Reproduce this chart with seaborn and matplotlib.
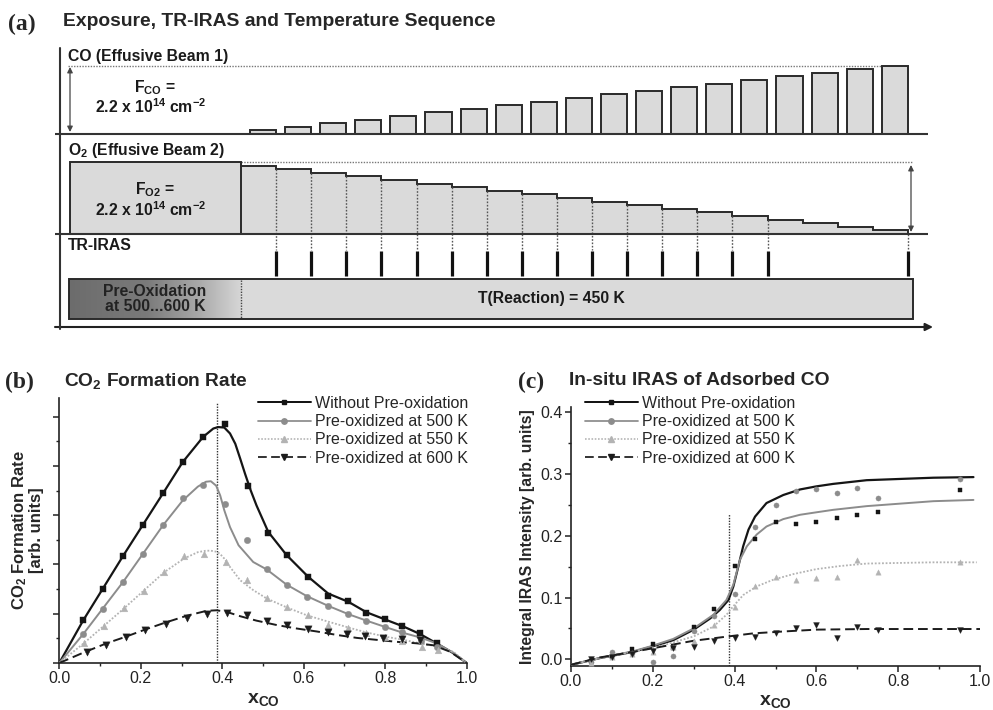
import numpy as np
import pandas as pd
import matplotlib
matplotlib.use("Agg")
import matplotlib.pyplot as plt
import seaborn as sns
from matplotlib.lines import Line2D
from matplotlib.patches import Rectangle
from matplotlib.colors import LinearSegmentedColormap

# ------------------------------------------------------------------ data
# panel (a): relative beam fluxes per exposure step
co_flux = [0.05, 0.10, 0.15, 0.20, 0.25, 0.30, 0.35, 0.40, 0.45, 0.50,
           0.55, 0.60, 0.65, 0.70, 0.75, 0.80, 0.85, 0.90, 0.95]
o2_flux = [0.95, 0.90, 0.85, 0.80, 0.75, 0.70, 0.65, 0.60, 0.55, 0.50,
           0.45, 0.40, 0.35, 0.30, 0.25, 0.20, 0.15, 0.10, 0.05]
o2_preox_flux = 1.0
iras_steps = [1, 2, 3, 4, 5, 6, 7, 8, 9, 10, 11, 12, 13, 14, 15, 19]

labels = ["Without Pre-oxidation", "Pre-oxidized at 500 K",
          "Pre-oxidized at 550 K", "Pre-oxidized at 600 K"]

# panel (b): CO2 formation rate, measured points
b_x_wo = [0.059, 0.108, 0.157, 0.206, 0.255, 0.303, 0.353, 0.407, 0.462, 0.513,
          0.560, 0.611, 0.660, 0.708, 0.753, 0.800, 0.840, 0.885, 0.926]
b_y_wo = [0.87, 1.51, 2.18, 2.80, 3.45, 4.08, 4.59, 4.86, 3.59, 2.63,
          2.19, 1.75, 1.36, 1.26, 1.02, 0.90, 0.76, 0.60, 0.40]
b_x_500 = [0.059, 0.108, 0.157, 0.206, 0.255, 0.303, 0.353, 0.407, 0.460, 0.509,
           0.558, 0.609, 0.660, 0.708, 0.753, 0.800, 0.840, 0.887, 0.926]
b_y_500 = [0.59, 1.10, 1.65, 2.22, 2.80, 3.34, 3.62, 3.22, 2.49, 1.90,
           1.58, 1.34, 1.16, 0.99, 0.86, 0.74, 0.63, 0.45, 0.33]
b_x_550 = [0.060, 0.110, 0.159, 0.208, 0.257, 0.306, 0.355, 0.409, 0.460, 0.509,
           0.560, 0.611, 0.660, 0.708, 0.754, 0.800, 0.840, 0.890, 0.930]
b_y_550 = [0.40, 0.75, 1.11, 1.47, 1.84, 2.17, 2.22, 2.05, 1.68, 1.31,
           1.14, 0.97, 0.77, 0.72, 0.60, 0.53, 0.45, 0.33, 0.26]
b_x_600 = [0.067, 0.115, 0.163, 0.211, 0.262, 0.313, 0.362, 0.412, 0.460, 0.510,
           0.558, 0.611, 0.660, 0.705, 0.750, 0.795, 0.840, 0.885]
b_y_600 = [0.23, 0.37, 0.52, 0.66, 0.80, 0.92, 1.00, 1.01, 0.97, 0.86,
           0.77, 0.69, 0.63, 0.58, 0.54, 0.51, 0.48, 0.46]

# panel (b): fitted curves
bf_x_wo = [0.0, 0.059, 0.157, 0.255, 0.303, 0.353, 0.378, 0.390, 0.405, 0.419, 0.432,
           0.444, 0.456, 0.470, 0.484, 0.513, 0.558, 0.611, 0.660, 0.710, 0.754,
           0.804, 0.845, 0.885, 0.926, 0.967, 1.0]
bf_y_wo = [0.0, 0.87, 2.18, 3.45, 4.08, 4.59, 4.76, 4.79, 4.78, 4.66, 4.45,
           4.15, 3.84, 3.50, 3.20, 2.66, 2.19, 1.75, 1.41, 1.24, 1.03,
           0.87, 0.74, 0.59, 0.40, 0.20, 0.0]
bf_x_500 = [0.0, 0.059, 0.157, 0.255, 0.303, 0.340, 0.360, 0.372, 0.385, 0.395,
            0.405, 0.419, 0.440, 0.476, 0.509, 0.558, 0.607, 0.660, 0.710, 0.754,
            0.804, 0.845, 0.885, 0.926, 0.967, 1.0]
bf_y_500 = [0.0, 0.59, 1.65, 2.80, 3.30, 3.58, 3.68, 3.69, 3.60, 3.40,
            3.10, 2.76, 2.39, 2.05, 1.90, 1.59, 1.36, 1.16, 0.99, 0.86,
            0.72, 0.61, 0.52, 0.40, 0.21, 0.0]
bf_x_550 = [0.0, 0.060, 0.159, 0.257, 0.306, 0.340, 0.360, 0.372, 0.385, 0.394,
            0.405, 0.419, 0.444, 0.476, 0.509, 0.558, 0.607, 0.660, 0.710, 0.754,
            0.804, 0.845, 0.885, 0.926, 0.967, 1.0]
bf_y_550 = [0.0, 0.40, 1.11, 1.84, 2.12, 2.25, 2.28, 2.28, 2.26, 2.22,
            2.12, 1.95, 1.68, 1.48, 1.31, 1.13, 0.97, 0.84, 0.72, 0.62,
            0.53, 0.47, 0.40, 0.34, 0.23, 0.0]
bf_x_600 = [0.0, 0.059, 0.116, 0.162, 0.211, 0.260, 0.313, 0.362, 0.386, 0.410,
            0.444, 0.484, 0.534, 0.583, 0.632, 0.681, 0.730, 0.779, 0.828,
            0.877, 0.918, 0.959, 1.0]
bf_y_600 = [0.0, 0.21, 0.40, 0.53, 0.68, 0.82, 0.96, 1.06, 1.07, 1.04,
            0.95, 0.86, 0.77, 0.70, 0.64, 0.57, 0.51, 0.47, 0.43,
            0.40, 0.36, 0.23, 0.0]

# panel (c): integral IRAS intensity, measured points
c_x = [0.05, 0.10, 0.15, 0.20, 0.25, 0.30, 0.35, 0.40, 0.45, 0.50,
       0.55, 0.60, 0.65, 0.70, 0.75, 0.95]
c_y_wo = [-0.002, 0.004, 0.016, 0.025, 0.019, 0.053, 0.081, 0.151, 0.194, 0.222,
          0.219, 0.222, 0.229, 0.234, 0.239, 0.274]
c_y_500 = [-0.005, 0.011, 0.010, -0.004, 0.006, 0.045, 0.070, 0.105, 0.215, 0.250,
           0.272, 0.276, 0.270, 0.277, 0.261, 0.292]
c_y_550 = [-0.006, 0.004, 0.008, 0.012, 0.020, 0.030, 0.055, 0.085, 0.118, 0.133,
           0.129, 0.132, 0.133, 0.161, 0.141, 0.157]
c_y_600 = [0.000, 0.003, 0.008, 0.013, 0.018, 0.020, 0.030, 0.035, 0.036, 0.043,
           0.050, 0.056, 0.035, 0.052, 0.048, 0.048]

# panel (c): fitted curves
cf_x_wo = [0.0, 0.071, 0.152, 0.200, 0.250, 0.300, 0.340, 0.364, 0.385, 0.397,
           0.409, 0.421, 0.434, 0.450, 0.478, 0.519, 0.560, 0.600, 0.641, 0.723,
           0.804, 0.886, 0.984]
cf_y_wo = [-0.009, 0.002, 0.012, 0.021, 0.031, 0.048, 0.066, 0.080, 0.096, 0.118,
           0.150, 0.183, 0.210, 0.231, 0.253, 0.266, 0.275, 0.280, 0.284, 0.290,
           0.292, 0.294, 0.295]
cf_x_500 = [0.0, 0.071, 0.152, 0.200, 0.250, 0.300, 0.348, 0.380, 0.397, 0.413,
            0.430, 0.454, 0.478, 0.519, 0.560, 0.600, 0.641, 0.723, 0.804, 0.886,
            0.984]
cf_y_500 = [-0.009, 0.002, 0.013, 0.022, 0.033, 0.050, 0.072, 0.096, 0.121, 0.161,
            0.183, 0.202, 0.215, 0.227, 0.234, 0.238, 0.242, 0.248, 0.252, 0.256,
            0.258]
cf_x_550 = [0.0, 0.071, 0.200, 0.300, 0.348, 0.380, 0.397, 0.421, 0.454, 0.495,
            0.544, 0.600, 0.658, 0.723, 0.804, 0.886, 0.992]
cf_y_550 = [-0.009, 0.002, 0.018, 0.037, 0.053, 0.072, 0.086, 0.104, 0.118, 0.129,
            0.138, 0.146, 0.151, 0.155, 0.156, 0.157, 0.157]
cf_x_600 = [0.0, 0.071, 0.152, 0.234, 0.300, 0.348, 0.397, 0.446, 0.519, 0.600,
            0.723, 0.886, 1.0]
cf_y_600 = [-0.009, 0.003, 0.012, 0.022, 0.030, 0.034, 0.038, 0.042, 0.045, 0.048,
            0.049, 0.049, 0.049]

x_stoich = 0.386

# ------------------------------------------------------------------ style
sns.set_style("ticks")
plt.rcParams["font.family"] = ["Liberation Sans", "DejaVu Sans"]
plt.rcParams["mathtext.default"] = "regular"
plt.rcParams["axes.linewidth"] = 1.2
plt.rcParams["axes.edgecolor"] = "#222222"

W, H = 993, 710
fig = plt.figure(figsize=(W / 100, H / 100), dpi=100)

def fx(px):
    return px / W

def fy(py):
    return 1 - py / H

styles = [
    dict(color="#151515", ls="-", lw=1.6, marker="s", ms=4.2),
    dict(color="#8c8c8c", ls="-", lw=1.4, marker="o", ms=4.6),
    dict(color="#b3b3b3", ls=(0, (1, 1)), lw=1.3, marker="^", ms=4.8),
    dict(color="#1c1c1c", ls=(0, (5, 2.5)), lw=1.4, marker="v", ms=5.2),
]

# ------------------------------------------------------------------ panel (a)
STEP_PX, U0_PX = 35.1, 241.0
FLUX_PX = 72.0
CO_BASE, O2_BASE = 134.0, 234.0

def u(px):
    return (px - U0_PX) / STEP_PX

ax_a = fig.add_axes([0, fy(340), 1, 310 / H])
ax_a.set_xlim(u(0), u(W))
ax_a.set_ylim(340, 30)
ax_a.axis("off")

BAR_FILL = "#dadada"
EDGE = "#2a2a2a"
steps = np.arange(len(co_flux))
co_arr = np.array(co_flux)
o2_arr = np.array(o2_flux)

# CO bars
ax_a.bar(steps + 0.627, -co_arr * FLUX_PX, bottom=CO_BASE, width=0.745,
         color=BAR_FILL, edgecolor=EDGE, linewidth=1.4, zorder=3)
# O2 staircase
edges = np.concatenate([[u(70)], np.arange(len(o2_flux) + 1)])
vals = O2_BASE - np.concatenate([[o2_preox_flux], o2_arr]) * FLUX_PX
ax_a.stairs(vals, edges, baseline=O2_BASE, fill=True, color=BAR_FILL, zorder=2)
ax_a.stairs(vals, edges, baseline=O2_BASE, fill=False, color=EDGE, linewidth=1.4, zorder=4)
ax_a.vlines(0, O2_BASE, O2_BASE - o2_preox_flux * FLUX_PX, color=EDGE, lw=1.4, zorder=4)

# TR-IRAS markers and dotted guides
iras_arr = np.array(iras_steps)
right_top = []
for s in iras_steps:
    nxt = o2_flux[s] if s < len(o2_flux) else 0.0
    right_top.append(O2_BASE - nxt * FLUX_PX)
ax_a.vlines(iras_arr, right_top, 250, colors="#555555", linestyles=(0, (1.2, 1.2)),
            lw=1.0, zorder=5)
ax_a.vlines(iras_arr, 251, 276, colors="#111111", lw=2.3, zorder=5)

# dotted reference lines
ax_a.hlines(CO_BASE - max(co_flux) * FLUX_PX, u(68), u(908), colors="#777777",
            linestyles=(0, (1, 1)), lw=1.0, zorder=1)
ax_a.hlines(O2_BASE - o2_preox_flux * FLUX_PX, 0, u(913), colors="#777777",
            linestyles=(0, (1, 1)), lw=1.0, zorder=1)

# axis lines
ax_a.plot([u(60), u(60)], [48, 329], color="#333333", lw=1.5, zorder=6)
ax_a.hlines([CO_BASE, O2_BASE], u(55), u(928), colors="#333333", lw=1.5, zorder=6)
ax_a.annotate("", xy=(u(933), 327), xytext=(u(55), 327),
              arrowprops=dict(arrowstyle="-|>", color="#222222", lw=1.5,
                              mutation_scale=11, shrinkA=0, shrinkB=0))
# flux arrows
ax_a.annotate("", xy=(u(70), 67), xytext=(u(70), 132),
              arrowprops=dict(arrowstyle="<|-|>", color="#444444", lw=0.9,
                              mutation_scale=8, shrinkA=0, shrinkB=0))
ax_a.annotate("", xy=(u(911), 165), xytext=(u(911), 232),
              arrowprops=dict(arrowstyle="<|-|>", color="#444444", lw=0.9,
                              mutation_scale=8, shrinkA=0, shrinkB=0))

# temperature bar
ax_a.add_patch(Rectangle((u(69), 279), u(913) - u(69), 40, facecolor=BAR_FILL,
                         edgecolor="none", zorder=2))
grad = np.linspace(0, 1, 256)[None, :]
cmap = LinearSegmentedColormap.from_list(
    "pre", [(0, "#6c6c6c"), (0.45, "#7a7a7a"), (0.75, "#a8a8a8"), (1, "#d6d6d6")])
ax_a.imshow(grad, extent=(u(69), 0, 319, 279), aspect="auto", cmap=cmap, zorder=3)
ax_a.add_patch(Rectangle((u(69), 279), u(913) - u(69), 40, facecolor="none",
                         edgecolor=EDGE, lw=1.4, zorder=4))
ax_a.vlines(0, 280, 318, colors="#444444", linestyles=(0, (1, 1)), lw=1.0, zorder=5)
ax_a.set_xlim(u(0), u(W))
ax_a.set_ylim(340, 30)

tkw = dict(fontweight="bold", color="#1a1a1a", fontsize=11.3)
ax_a.text(u(68), 56, "CO (Effusive Beam 1)", ha="left", va="center", **tkw)
ax_a.text(u(68), 150, "O$_2$ (Effusive Beam 2)", ha="left", va="center", **tkw)
ax_a.text(u(68), 245, "TR-IRAS", ha="left", va="center", **tkw)
ax_a.text(u(155), 88, "F$_{CO}$ =", ha="center", va="center", **tkw)
ax_a.text(u(151), 107, "2.2 x 10$^{14}$ cm$^{-2}$", ha="center", va="center", **tkw)
ax_a.text(u(155), 190, "F$_{O2}$ =", ha="center", va="center", **tkw)
ax_a.text(u(151), 210, "2.2 x 10$^{14}$ cm$^{-2}$", ha="center", va="center", **tkw)
ax_a.text(u(155), 299, "Pre-Oxidation\nat 500...600 K", ha="center", va="center",
          linespacing=1.0, fontweight="bold", color="#222222", fontsize=11.3, zorder=6)
ax_a.text(u(551), 299, "T(Reaction) = 450 K", ha="center", va="center", zorder=6, **tkw)

# panel titles
serif = dict(family=["Liberation Serif", "DejaVu Serif"], fontweight="bold", fontsize=17)
fig.text(fx(8), fy(24), "(a)", ha="left", va="center", **serif)
fig.text(fx(63), fy(22), "Exposure, TR-IRAS and Temperature Sequence",
         ha="left", va="center", fontweight="bold", fontsize=13.9)
fig.text(fx(5), fy(382), "(b)", ha="left", va="center", **serif)
fig.text(fx(64), fy(381), "CO$_2$ Formation Rate", ha="left", va="center",
         fontweight="bold", fontsize=13.8)
fig.text(fx(518), fy(382), "(c)", ha="left", va="center", **serif)
fig.text(fx(569), fy(381), "In-situ IRAS of Adsorbed CO", ha="left", va="center",
         fontweight="bold", fontsize=13.9)

# ------------------------------------------------------------------ panels (b), (c)
def draw_panel(ax, curves, points, small):
    for (cx, cy), (px_, py_), st in zip(curves, points, styles):
        sns.lineplot(x=cx, y=cy, ax=ax, color=st["color"], linestyle=st["ls"],
                     lw=st["lw"], sort=False, estimator=None, legend=False, zorder=3)
        ms = st["ms"] * (0.8 if small else 1.0)
        sns.scatterplot(x=px_, y=py_, ax=ax, color=st["color"], marker=st["marker"],
                        s=ms ** 2, edgecolor=st["color"], linewidth=0.3,
                        legend=False, zorder=4)
    handles = [Line2D([], [], color=st["color"], ls=st["ls"], lw=st["lw"] * 0.9,
                      marker=st["marker"], ms=st["ms"] * 0.85) for st in styles]
    return handles

leg_kw = dict(loc="upper left", bbox_transform=fig.transFigure, frameon=False,
              fontsize=11.5, handlelength=3.3, handletextpad=0.25,
              labelspacing=0.2, borderpad=0, borderaxespad=0)

ax_b = fig.add_axes([fx(59.3), fy(663), fx(407.4), 265 / H])
hb = draw_panel(ax_b,
                [(bf_x_wo, bf_y_wo), (bf_x_500, bf_y_500), (bf_x_550, bf_y_550), (bf_x_600, bf_y_600)],
                [(b_x_wo, b_y_wo), (b_x_500, b_y_500), (b_x_550, b_y_550), (b_x_600, b_y_600)],
                False)
ax_b.vlines(x_stoich, 0, 5.3, colors="#333333", linestyles=(0, (1, 1)), lw=1.0, zorder=2)
ax_b.set_xlim(0, 1.0)
ax_b.set_ylim(0, 5.38)
ax_b.set_xticks([0, 0.2, 0.4, 0.6, 0.8, 1.0])
ax_b.set_xticklabels(["0.0", "0.2", "0.4", "0.6", "0.8", "1.0"])
ax_b.set_xticks(np.arange(0.1, 1.0, 0.2), minor=True)
ax_b.set_yticks([0, 1, 2, 3, 4, 5])
ax_b.set_yticklabels([])
ax_b.set_yticks(np.arange(0.5, 5.4, 1.0), minor=True)
ax_b.set_ylabel("CO$_2$ Formation Rate\n[arb. units]", fontweight="bold",
                fontsize=12, linespacing=1.0, labelpad=5)
ax_b.legend(handles=hb, labels=labels, bbox_to_anchor=(fx(258), fy(396)), **leg_kw)

ax_c = fig.add_axes([fx(571), fy(665.7), fx(409), 259 / H])
hc = draw_panel(ax_c,
                [(cf_x_wo, cf_y_wo), (cf_x_500, cf_y_500), (cf_x_550, cf_y_550), (cf_x_600, cf_y_600)],
                [(c_x, c_y_wo), (c_x, c_y_500), (c_x, c_y_550), (c_x, c_y_600)],
                True)
ax_c.vlines(x_stoich, -0.0104, 0.236, colors="#333333", linestyles=(0, (1, 1)),
            lw=1.0, zorder=2)
ax_c.set_xlim(0, 1.0)
ax_c.set_ylim(-0.0104, 0.409)
ax_c.set_xticks([0, 0.2, 0.4, 0.6, 0.8, 1.0])
ax_c.set_xticklabels(["0.0", "0.2", "0.4", "0.6", "0.8", "1.0"])
ax_c.set_xticks(np.arange(0.1, 1.0, 0.2), minor=True)
ax_c.set_yticks([0, 0.1, 0.2, 0.3, 0.4])
ax_c.set_yticklabels(["0.0", "0.1", "0.2", "0.3", "0.4"])
ax_c.set_yticks([0.05, 0.15, 0.25, 0.35], minor=True)
ax_c.set_ylabel("Integral IRAS Intensity [arb. units]", fontweight="bold",
                fontsize=11.3, labelpad=4)
ax_c.legend(handles=hc, labels=labels, bbox_to_anchor=(fx(585), fy(396)), **leg_kw)

for ax in (ax_b, ax_c):
    sns.despine(ax=ax)
    ax.tick_params(which="major", direction="out", length=4, width=1.1,
                   labelsize=11.5, colors="#222222", pad=2)
    ax.tick_params(which="minor", direction="out", length=2.5, width=1.0,
                   colors="#222222")
    ax.set_xlabel("x$_{CO}$", fontweight="bold", fontsize=14, labelpad=3)
    ax.set_facecolor("none")

fig.savefig("out.png", dpi=100, facecolor="white")
